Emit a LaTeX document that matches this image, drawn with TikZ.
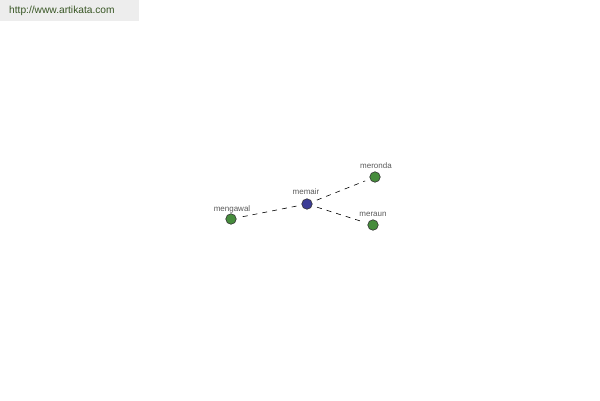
\documentclass[tikz,border=0pt]{standalone}
\usepackage{fontspec}
\setmainfont{Liberation Sans}
\begin{document}
\begin{tikzpicture}[x=1pt,y=-1pt,
  vnode/.style={circle,draw=black!80,line width=0.6pt,minimum size=10.5pt,inner sep=0pt},
  lbl/.style={font=\fontsize{8}{9}\selectfont,text=black!65,inner sep=0pt},
  link/.style={draw=black,line width=0.6pt,dash pattern=on 5pt off 5pt,shorten >=5pt,shorten <=5pt}]
\definecolor{ngreen}{RGB}{70,140,60}
\definecolor{nblue}{RGB}{60,60,150}
\definecolor{urlc}{RGB}{55,85,35}
\useasboundingbox (0,0) rectangle (600,400);
\fill[black!7] (0,0) rectangle (139,21);
\node[anchor=west,inner sep=0pt,text=urlc,font=\fontsize{10.2}{12}\selectfont] (url) at (9,11) {http://www.artikata.com};
\node[vnode,fill=nblue] (memair) at (307,204) {};
\node[vnode,fill=ngreen] (meronda) at (375,177) {};
\node[vnode,fill=ngreen] (meraun) at (373,225) {};
\node[vnode,fill=ngreen] (mengawal) at (231,219) {};
\node[lbl] (lmemair) at (306,192) {memair};
\node[lbl] (lmeronda) at (376,166) {meronda};
\node[lbl] (lmeraun) at (373,214) {meraun};
\node[lbl] (lmengawal) at (232,209) {mengawal};
\draw[link] (memair) -- (meronda);
\draw[link] (memair) -- (meraun);
\draw[link] (memair) -- (mengawal);
\end{tikzpicture}
\end{document}
